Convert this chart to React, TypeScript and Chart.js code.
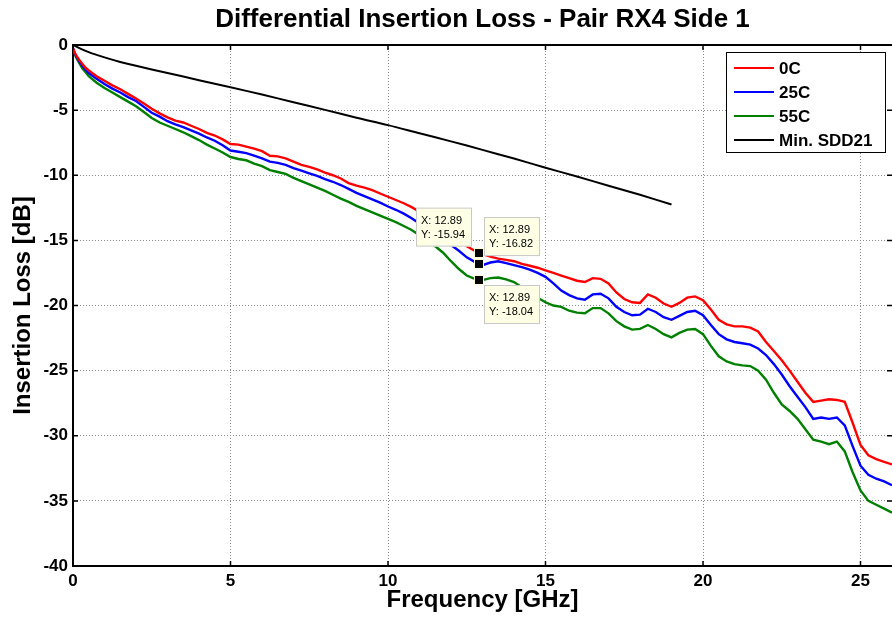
import React, { useEffect, useRef } from 'react';
import { Chart, registerables } from 'chart.js';

Chart.register(...registerables);

const FONT = '"Liberation Sans", Arial, Helvetica, sans-serif';

const chartTitle = 'Differential Insertion Loss - Pair RX4 Side 1';
const xAxisTitle = 'Frequency [GHz]';
const yAxisTitle = 'Insertion Loss [dB]';
const seriesLabels = ['0C', '25C', '55C', 'Min. SDD21'];
const seriesColors = ['#ff0000', '#0000ff', '#008000', '#000000'];

const freqGHz = [
  0, 0.05, 0.1, 0.2, 0.3, 0.4, 0.5, 0.75, 1, 1.25, 1.5, 1.75, 2, 2.25, 2.5, 2.75,
  3, 3.25, 3.5, 3.75, 4, 4.25, 4.5, 4.75, 5, 5.25, 5.5, 5.75, 6, 6.25, 6.5, 6.75,
  7, 7.25, 7.5, 7.75, 8, 8.25, 8.5, 8.75, 9, 9.25, 9.5, 9.75, 10, 10.25, 10.5, 10.75,
  11, 11.25, 11.5, 11.75, 12, 12.25, 12.5, 12.75, 13, 13.25, 13.5, 13.75, 14, 14.25, 14.5, 14.75,
  15, 15.25, 15.5, 15.75, 16, 16.25, 16.5, 16.75, 17, 17.25, 17.5, 17.75, 18, 18.25, 18.5, 18.75,
  19, 19.25, 19.5, 19.75, 20, 20.25, 20.5, 20.75, 21, 21.25, 21.5, 21.75, 22, 22.25, 22.5, 22.75,
  23, 23.25, 23.5, 23.75, 24, 24.25, 24.5, 24.75, 25, 25.25, 25.5, 25.75, 26,
];

const loss0C = [
  -0.25, -0.55, -0.8, -1.15, -1.45, -1.75, -1.95, -2.4, -2.75, -3.1, -3.4, -3.75, -4.1, -4.5, -4.9, -5.25,
  -5.55, -5.8, -5.95, -6.2, -6.45, -6.75, -6.95, -7.25, -7.6, -7.65, -7.8, -7.95, -8.15, -8.5, -8.55, -8.7,
  -8.95, -9.2, -9.35, -9.55, -9.8, -10.0, -10.25, -10.6, -10.8, -10.95, -11.15, -11.4, -11.65, -11.9, -12.15, -12.45,
  -12.8, -13.2, -13.6, -14.1, -14.6, -15.05, -15.45, -15.8, -16.05, -16.25, -16.4, -16.5, -16.6, -16.8, -16.95, -17.1,
  -17.3, -17.5, -17.7, -17.9, -18.1, -18.2, -17.9, -17.95, -18.3, -19.0, -19.5, -19.75, -19.8, -19.15, -19.4, -19.85,
  -20.1, -19.8, -19.4, -19.3, -19.6, -20.3, -21.1, -21.45, -21.6, -21.6, -21.7, -22.0, -22.8, -23.5, -24.2, -25.0,
  -25.85, -26.7, -27.4, -27.3, -27.2, -27.25, -27.4, -29.0, -30.7, -31.5, -31.8, -32.0, -32.2,
];

const loss25C = [
  -0.25, -0.6, -0.85, -1.25, -1.6, -1.9, -2.15, -2.6, -3.0, -3.35, -3.65, -4.0, -4.3, -4.75, -5.2, -5.5,
  -5.85, -6.1, -6.3, -6.55, -6.8, -7.1, -7.35, -7.7, -8.1, -8.2, -8.3, -8.5, -8.7, -8.95, -9.05, -9.2,
  -9.45, -9.65, -9.85, -10.05, -10.3, -10.5, -10.75, -11.05, -11.35, -11.6, -11.85, -12.1, -12.4, -12.65, -12.95, -13.3,
  -13.7, -14.1, -14.55, -14.95, -15.35, -15.8, -16.3, -16.65, -16.9, -16.7, -16.6, -16.75, -16.9, -17.05, -17.25, -17.5,
  -17.8, -18.3, -18.85, -19.2, -19.45, -19.55, -19.15, -19.1, -19.45, -20.1, -20.5, -20.75, -20.7, -20.25, -20.5, -20.9,
  -21.1, -20.8, -20.5, -20.4, -20.75, -21.5, -22.2, -22.6, -22.8, -22.9, -23.0, -23.3, -23.8, -24.5, -25.3, -26.2,
  -27.0, -27.8, -28.7, -28.6, -28.7, -28.6, -29.2, -30.8, -32.3, -33.0, -33.3, -33.5, -33.8,
];

const loss55C = [
  -0.3, -0.65, -0.95, -1.4, -1.8, -2.1, -2.4, -2.9, -3.3, -3.65, -4.0, -4.35, -4.7, -5.15, -5.6, -5.95,
  -6.2, -6.45, -6.7, -7.0, -7.3, -7.65, -7.95, -8.25, -8.6, -8.75, -8.85, -9.1, -9.3, -9.6, -9.75, -9.9,
  -10.2, -10.45, -10.7, -10.95, -11.2, -11.5, -11.8, -12.05, -12.35, -12.6, -12.85, -13.1, -13.35, -13.6, -13.9, -14.2,
  -14.6, -15.0, -15.45, -15.95, -16.6, -17.2, -17.7, -17.95, -18.05, -17.9, -17.85, -18.0, -18.2, -18.6, -19.0, -19.4,
  -19.75, -20.0, -20.1, -20.4, -20.55, -20.6, -20.2, -20.2, -20.6, -21.2, -21.6, -21.85, -21.8, -21.5, -21.8, -22.2,
  -22.45, -22.1, -21.85, -21.8, -22.2, -23.1, -23.9, -24.3, -24.5, -24.6, -24.65, -25.0, -25.7, -26.7, -27.6, -28.1,
  -28.7, -29.5, -30.3, -30.45, -30.65, -30.45, -31.2, -32.8, -34.2, -35.0, -35.3, -35.6, -35.9,
];

const minFreqGHz = [0, 0.5, 1, 1.5, 2, 3, 4, 5, 6, 7, 8, 9, 10, 11, 12, 13, 14, 15, 16, 17, 18, 19];
const minSdd21 = [
  0, -0.55, -0.95, -1.3, -1.6, -2.15, -2.7, -3.25, -3.8, -4.4, -4.98, -5.58, -6.15, -6.78, -7.4, -8.05,
  -8.72, -9.42, -10.1, -10.8, -11.5, -12.25,
];

const tipFreq = 12.89;
const tipValues = [-15.94, -16.82, -18.04];

const xMin = 0;
const xMax = 26;
const yMin = -40;
const yMax = 0;
const tickStep = 5;

function toPoints(xs: number[], ys: number[]) {
  return xs.map((x, i) => ({ x, y: ys[i] }));
}

const titlePlugin = {
  id: 'centeredTitle',
  afterDraw(chart: any) {
    const { ctx, chartArea } = chart;
    ctx.save();
    ctx.fillStyle = '#000';
    ctx.font = `bold 26px ${FONT}`;
    ctx.textAlign = 'center';
    ctx.textBaseline = 'middle';
    ctx.fillText(chartTitle, (chartArea.left + chartArea.right) / 2, 20);
    ctx.restore();
  },
};

const boxPlugin = {
  id: 'matlabBox',
  afterDatasetsDraw(chart: any) {
    const { ctx, chartArea, scales } = chart;
    const { left, right, top, bottom } = chartArea;
    ctx.save();
    ctx.strokeStyle = '#000';
    ctx.lineWidth = 2;
    ctx.beginPath();
    ctx.moveTo(left, top);
    ctx.lineTo(right, top);
    ctx.stroke();
    ctx.lineWidth = 1.5;
    const len = 5;
    ctx.beginPath();
    scales.x.ticks.forEach((t: any) => {
      const px = scales.x.getPixelForValue(t.value);
      ctx.moveTo(px, bottom);
      ctx.lineTo(px, bottom - len);
      ctx.moveTo(px, top);
      ctx.lineTo(px, top + len);
    });
    scales.y.ticks.forEach((t: any) => {
      const py = scales.y.getPixelForValue(t.value);
      ctx.moveTo(left, py);
      ctx.lineTo(left + len, py);
      ctx.moveTo(right, py);
      ctx.lineTo(right - len, py);
    });
    ctx.stroke();
    ctx.restore();
  },
};

const tipPlugin = {
  id: 'dataTips',
  afterDatasetsDraw(chart: any) {
    const { ctx, scales } = chart;
    const px = scales.x.getPixelForValue(tipFreq);
    const boxW = 56;
    const boxH = 39;
    ctx.save();
    tipValues.forEach((v, i) => {
      const py = scales.y.getPixelForValue(v);
      let bx: number;
      let by: number;
      if (i === 0) {
        bx = px - 7 - boxW;
        by = py - 6 - boxH;
      } else if (i === 1) {
        bx = px + 5;
        by = py - 8 - boxH;
      } else {
        bx = px + 5;
        by = py + 5;
      }
      ctx.fillStyle = '#ffffe6';
      ctx.strokeStyle = '#c8c8c8';
      ctx.lineWidth = 1;
      ctx.fillRect(bx, by, boxW, boxH);
      ctx.strokeRect(bx + 0.5, by + 0.5, boxW - 1, boxH - 1);
      ctx.fillStyle = '#000';
      ctx.font = `11px ${FONT}`;
      ctx.textAlign = 'left';
      ctx.textBaseline = 'middle';
      ctx.fillText(`X: ${tipFreq.toFixed(2)}`, bx + 5, by + 13);
      ctx.fillText(`Y: ${v.toFixed(2)}`, bx + 5, by + 27);
    });
    tipValues.forEach((v) => {
      const py = scales.y.getPixelForValue(v);
      ctx.fillStyle = '#ffffd0';
      ctx.fillRect(Math.round(px) - 5, Math.round(py) - 5, 10, 10);
      ctx.fillStyle = '#000';
      ctx.fillRect(Math.round(px) - 4, Math.round(py) - 4, 8, 8);
    });
    ctx.restore();
  },
};

const legendPlugin = {
  id: 'boxLegend',
  afterDraw(chart: any) {
    const { ctx, chartArea } = chart;
    const w = 159;
    const h = 100;
    const x0 = chartArea.right - 7 - w;
    const y0 = chartArea.top + 7;
    ctx.save();
    ctx.fillStyle = '#fff';
    ctx.fillRect(x0, y0, w, h);
    ctx.strokeStyle = '#000';
    ctx.lineWidth = 1;
    ctx.strokeRect(x0 + 0.5, y0 + 0.5, w, h);
    ctx.font = `bold 17px ${FONT}`;
    ctx.textAlign = 'left';
    ctx.textBaseline = 'middle';
    chart.data.datasets.forEach((ds: any, i: number) => {
      const yy = y0 + 16 + i * 24;
      ctx.strokeStyle = ds.borderColor;
      ctx.lineWidth = 2;
      ctx.beginPath();
      ctx.moveTo(x0 + 8, yy);
      ctx.lineTo(x0 + 48, yy);
      ctx.stroke();
      ctx.fillStyle = '#000';
      ctx.fillText(ds.label, x0 + 53, yy + 1);
    });
    ctx.restore();
  },
};

export default function App() {
  const canvasRef = useRef<HTMLCanvasElement | null>(null);

  useEffect(() => {
    document.body.style.margin = '0';
    const canvas = canvasRef.current;
    if (!canvas) return;
    const tickFont = { family: FONT, size: 17, weight: 'bold' as const };
    const axisTitleFont = { family: FONT, size: 24, weight: 'bold' as const };
    const series = [loss0C, loss25C, loss55C];
    const datasets: any[] = series.map((ys, i) => ({
      label: seriesLabels[i],
      data: toPoints(freqGHz, ys),
      borderColor: seriesColors[i],
      backgroundColor: seriesColors[i],
      borderWidth: 2.4,
      pointRadius: 0,
      tension: 0,
      fill: false,
    }));
    datasets.push({
      label: seriesLabels[3],
      data: toPoints(minFreqGHz, minSdd21),
      borderColor: seriesColors[3],
      backgroundColor: seriesColors[3],
      borderWidth: 2,
      pointRadius: 0,
      tension: 0.3,
      fill: false,
    });

    const chart = new Chart(canvas, {
      type: 'line',
      data: { datasets },
      plugins: [titlePlugin, boxPlugin, tipPlugin, legendPlugin],
      options: {
        animation: false,
        responsive: false,
        maintainAspectRatio: false,
        layout: { padding: { top: 45, left: 0, right: 0, bottom: 0 } },
        plugins: {
          legend: { display: false },
          title: { display: false },
          tooltip: { enabled: false },
        },
        scales: {
          x: {
            type: 'linear',
            min: xMin,
            max: xMax,
            afterFit: (s: any) => {
              s.height = 52;
            },
            ticks: {
              stepSize: tickStep,
              includeBounds: false,
              color: '#000',
              font: tickFont,
              padding: 5,
              maxRotation: 0,
            },
            grid: { color: '#8c8c8c', lineWidth: 1, drawTicks: false },
            border: { display: true, color: '#000', width: 2, dash: [1, 2] },
            title: {
              display: true,
              text: xAxisTitle,
              color: '#000',
              font: axisTitleFont,
              padding: { top: 0, bottom: 3 },
            },
          },
          y: {
            type: 'linear',
            min: yMin,
            max: yMax,
            afterFit: (s: any) => {
              s.width = 73;
            },
            ticks: {
              stepSize: tickStep,
              color: '#000',
              font: tickFont,
              padding: 5,
            },
            grid: { color: '#8c8c8c', lineWidth: 1, drawTicks: false },
            border: { display: true, color: '#000', width: 2, dash: [1, 2] },
            title: {
              display: true,
              text: yAxisTitle,
              color: '#000',
              font: axisTitleFont,
              padding: { top: 9, bottom: 0 },
            },
          },
        },
      } as any,
    });
    return () => chart.destroy();
  }, []);

  return (
    <div style={{ position: 'absolute', left: 0, top: 0, width: 892, height: 618, background: '#fff' }}>
      <canvas ref={canvasRef} width={892} height={618} style={{ display: 'block' }} />
    </div>
  );
}
